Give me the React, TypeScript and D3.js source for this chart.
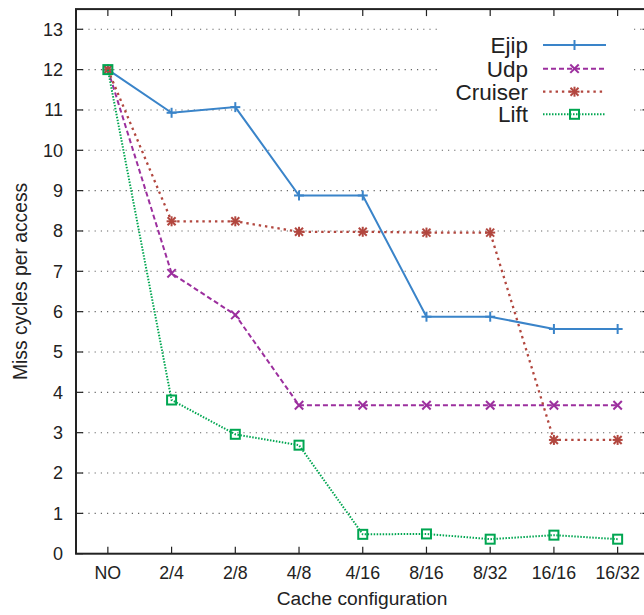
import React from "react";
import * as d3 from "d3";

const categories = ["NO", "2/4", "2/8", "4/8", "4/16", "8/16", "8/32", "16/16", "16/32"];
const ejip = [12, 10.93, 11.07, 8.88, 8.88, 5.875, 5.875, 5.57, 5.57];
const udp = [12, 6.95, 5.92, 3.68, 3.68, 3.68, 3.68, 3.68, 3.68];
const cruiser = [12, 8.24, 8.24, 7.98, 7.98, 7.96, 7.96, 2.82, 2.82];
const lift = [12, 3.81, 2.96, 2.69, 0.48, 0.49, 0.36, 0.46, 0.36];
const yTicks = [0, 1, 2, 3, 4, 5, 6, 7, 8, 9, 10, 11, 12, 13];

const W = 644;
const H = 615;
const left = 76;
const right = 649.5;
const top = 9.1;
const bottom = 553.7;
const font = "'Liberation Sans', Arial, Helvetica, sans-serif";

type Series = { name: string; values: number[]; color: string; dash: string; width: number; marker: string };
const series: Series[] = [
  { name: "Ejip", values: ejip, color: "#3a84c9", dash: "", width: 2, marker: "plus" },
  { name: "Udp", values: udp, color: "#9c2f9e", dash: "5,3", width: 2, marker: "x" },
  { name: "Cruiser", values: cruiser, color: "#b2473f", dash: "2.4,3.9", width: 2.3, marker: "star" },
  { name: "Lift", values: lift, color: "#00a651", dash: "1.5,1.5", width: 2, marker: "square" },
];

function Marker({ type, x, y, color }: { type: string; x: number; y: number; color: string }) {
  const s = 5;
  if (type === "plus")
    return (
      <g stroke={color} strokeWidth={2}>
        <line x1={x - s} x2={x + s} y1={y} y2={y} />
        <line x1={x} x2={x} y1={y - s} y2={y + s} />
      </g>
    );
  if (type === "x")
    return (
      <g stroke={color} strokeWidth={2}>
        <line x1={x - 4.2} x2={x + 4.2} y1={y - 4.2} y2={y + 4.2} />
        <line x1={x - 4.2} x2={x + 4.2} y1={y + 4.2} y2={y - 4.2} />
      </g>
    );
  if (type === "star")
    return (
      <g stroke={color} strokeWidth={2}>
        <line x1={x - s} x2={x + s} y1={y} y2={y} />
        <line x1={x} x2={x} y1={y - s} y2={y + s} />
        <line x1={x - 4} x2={x + 4} y1={y - 4} y2={y + 4} />
        <line x1={x - 4} x2={x + 4} y1={y + 4} y2={y - 4} />
      </g>
    );
  return <rect x={x - 4.5} y={y - 4.5} width={9} height={9} fill="none" stroke={color} strokeWidth={2} />;
}

export default function App() {
  const x = d3.scaleLinear().domain([-0.5, categories.length - 0.5]).range([left, right]);
  const y = d3.scaleLinear().domain([0, 13.5]).range([bottom, top]);
  const line = d3
    .line<number>()
    .x((_, i) => x(i))
    .y((d) => y(d));
  const legendY = [45, 68.7, 91.7, 114.3];

  return (
    <div style={{ position: "absolute", left: 0, top: 0 }}>
      <svg width={W} height={H} style={{ display: "block", background: "white" }} fontFamily={font}>
        {yTicks.map((t) => (
          <g key={t}>
            {t > 0 && (
              <line x1={left} x2={right} y1={y(t)} y2={y(t)} stroke="#666" strokeWidth={1.1} strokeDasharray="1.2,5" />
            )}
            <line x1={left} x2={left + 7} y1={y(t)} y2={y(t)} stroke="#222" strokeWidth={1.2} />
            <line x1={right} x2={right - 7} y1={y(t)} y2={y(t)} stroke="#222" strokeWidth={1.2} />
            <text x={63} y={y(t)} dy="0.36em" textAnchor="end" fontSize={18} fill="#222">
              {t}
            </text>
          </g>
        ))}
        {categories.map((c, i) => (
          <g key={c}>
            <line x1={x(i)} x2={x(i)} y1={bottom} y2={bottom - 7} stroke="#222" strokeWidth={1.2} />
            <line x1={x(i)} x2={x(i)} y1={top} y2={top + 7} stroke="#222" strokeWidth={1.2} />
            <text x={x(i)} y={579} textAnchor="middle" fontSize={17.8} fill="#222">
              {c}
            </text>
          </g>
        ))}
        <rect x={438} y={22} width={191} height={106} fill="white" />
        {series.map((s) => (
          <g key={s.name}>
            <path
              d={line(s.values) || ""}
              fill="none"
              stroke={s.color}
              strokeWidth={s.width}
              strokeDasharray={s.dash || undefined}
            />
            {s.values.map((v, i) => (
              <Marker key={i} type={s.marker} x={x(i)} y={y(v)} color={s.color} />
            ))}
          </g>
        ))}
        {series.map((s, k) => (
          <g key={"l" + s.name}>
            <text x={528} y={legendY[k]} dy="0.36em" textAnchor="end" fontSize={22.5} fill="#222">
              {s.name}
            </text>
            <line
              x1={543}
              x2={606}
              y1={legendY[k]}
              y2={legendY[k]}
              stroke={s.color}
              strokeWidth={s.width}
              strokeDasharray={s.dash || undefined}
            />
            <Marker type={s.marker} x={574.5} y={legendY[k]} color={s.color} />
          </g>
        ))}
        <rect x={left} y={top} width={right - left} height={bottom - top} fill="none" stroke="#222" strokeWidth={2} />
        <text x={362} y={605} textAnchor="middle" fontSize={19.2} fill="#222">
          Cache configuration
        </text>
        <text
          transform={`translate(27, ${(top + bottom) / 2}) rotate(-90)`}
          textAnchor="middle"
          fontSize={19.3}
          fill="#222"
        >
          Miss cycles per access
        </text>
      </svg>
    </div>
  );
}
